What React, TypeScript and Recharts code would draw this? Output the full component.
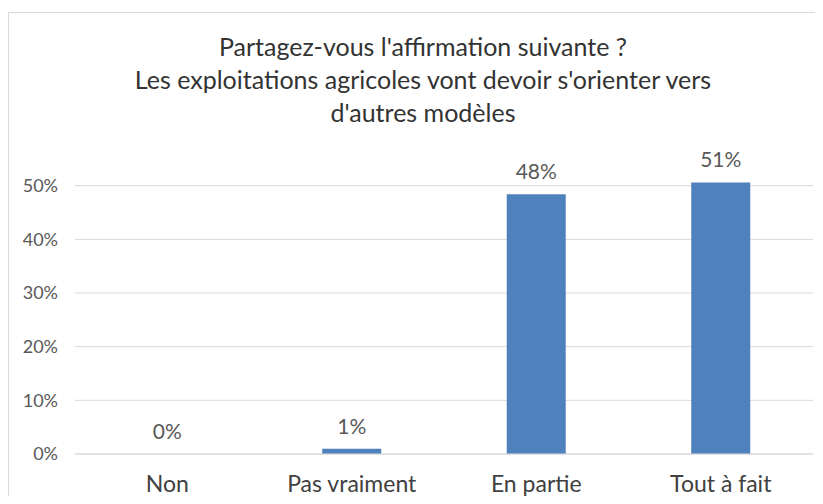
import { Bar, ComposedChart, CartesianGrid, LabelList, Line, XAxis, YAxis } from "recharts";

const CATEGORIES = ["Non", "Pas vraiment", "En partie", "Tout à fait"];
const SHARES = [0, 1.0, 48.4, 50.6];
const Y_TICKS = [0, 10, 20, 30, 40, 50];
const TITLE_LINES = [
  "Partagez-vous l'affirmation suivante ?",
  "Les exploitations agricoles vont devoir s'orienter vers",
  "d'autres modèles",
];

const FONT = "Lato, 'Open Sans', sans-serif";

const data = CATEGORIES.map((name, i) => ({ name, value: SHARES[i] }));

export default function App() {
  return (
    <div
      style={{
        position: "relative",
        width: 823,
        height: 504,
        margin: -8,
        overflow: "hidden",
        background: "#fff",
        fontFamily: FONT,
      }}
    >
      <div
        style={{
          position: "absolute",
          left: 8,
          top: 12,
          width: 840,
          height: 520,
          border: "1px solid #d9d9d9",
        }}
      />
      <div
        style={{
          position: "absolute",
          top: 30,
          left: 8,
          width: 830,
          textAlign: "center",
          fontSize: 25,
          lineHeight: "33px",
          color: "#333",
        }}
      >
        {TITLE_LINES.map((t) => (
          <div key={t}>{t}</div>
        ))}
      </div>
      <div style={{ position: "absolute", left: 0, top: 0 }}>
        <ComposedChart
          width={823}
          height={504}
          data={data}
          margin={{ top: 132, right: 10, bottom: 10, left: 8 }}
          barCategoryGap="34%"
        >
          <CartesianGrid vertical={false} stroke="#d9d9d9" horizontalValues={Y_TICKS} />
          <XAxis
            dataKey="name"
            axisLine={{ stroke: "#d9d9d9" }}
            tickLine={false}
            tickSize={0}
            tickMargin={22}
            height={40}
            tick={{ fill: "#404040", fontSize: 23, fontFamily: FONT }}
          />
          <YAxis
            domain={[0, 60]}
            ticks={Y_TICKS}
            width={67}
            axisLine={false}
            tickLine={false}
            tickSize={0}
            tickMargin={17}
            tickFormatter={(v: number) => `${v}%`}
            tick={{ fill: "#595959", fontSize: 18, fontFamily: FONT }}
          />
          <Bar dataKey="value" fill="#4f81bd" isAnimationActive={false} />
          <Line
            dataKey="value"
            stroke="none"
            dot={false}
            activeDot={false}
            isAnimationActive={false}
          >
            <LabelList
              dataKey="value"
              position="top"
              offset={15}
              formatter={(v: number) => `${Math.round(v)}%`}
              style={{ fill: "#595959", fontSize: 21, fontFamily: FONT }}
            />
          </Line>
        </ComposedChart>
      </div>
    </div>
  );
}
